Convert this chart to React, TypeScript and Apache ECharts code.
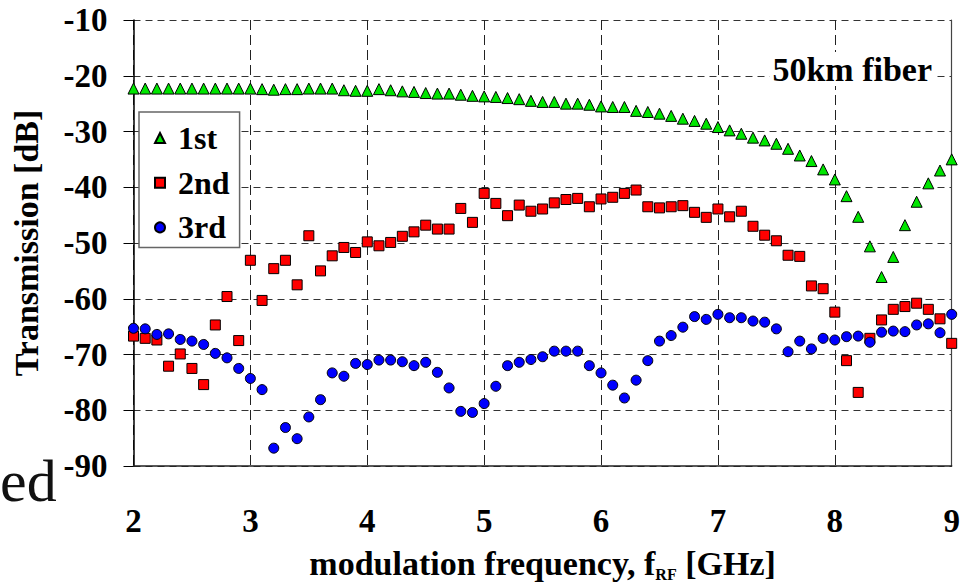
import React, { useEffect, useRef } from "react";
import * as echarts from "echarts";

const freqs = [
  2.0, 2.1, 2.2, 2.3, 2.4, 2.5, 2.6, 2.7, 2.8, 2.9,
  3.0, 3.1, 3.2, 3.3, 3.4, 3.5, 3.6, 3.7, 3.8, 3.9,
  4.0, 4.1, 4.2, 4.3, 4.4, 4.5, 4.6, 4.7, 4.8, 4.9,
  5.0, 5.1, 5.2, 5.3, 5.4, 5.5, 5.6, 5.7, 5.8, 5.9,
  6.0, 6.1, 6.2, 6.3, 6.4, 6.5, 6.6, 6.7, 6.8, 6.9,
  7.0, 7.1, 7.2, 7.3, 7.4, 7.5, 7.6, 7.7, 7.8, 7.9,
  8.0, 8.1, 8.2, 8.3, 8.4, 8.5, 8.6, 8.7, 8.8, 8.9,
  9.0,
];

const first = [
  -22.3, -22.3, -22.3, -22.3, -22.3, -22.3, -22.3, -22.3, -22.3, -22.3,
  -22.3, -22.4, -22.5, -22.4, -22.4, -22.3, -22.3, -22.3, -22.6, -22.7,
  -22.7, -22.4, -22.6, -22.8, -22.9, -23.1, -23.2, -23.2, -23.4, -23.6,
  -23.7, -23.8, -24.0, -24.2, -24.5, -24.7, -24.7, -25.0, -25.0, -25.2,
  -25.5, -25.6, -25.6, -26.3, -26.5, -26.8, -27.2, -27.7, -28.1, -28.6,
  -29.2, -29.8, -30.4, -31.1, -31.6, -32.2, -33.1, -34.3, -35.3, -36.8,
  -38.6, -41.6, -45.3, -50.6, -56.1, -52.5, -46.8, -42.6, -39.3, -37.0,
  -35.0,
];

const second = [
  -66.7, -67.1, -67.4, -72.1, -69.9, -72.5, -75.4, -64.7, -59.6, -67.5,
  -53.1, -60.3, -54.6, -53.1, -57.5, -48.7, -55.0, -52.3, -50.8, -51.7,
  -49.8, -50.5, -49.9, -48.8, -48.0, -46.8, -47.5, -47.5, -43.8, -46.3,
  -41.1, -42.9, -45.1, -43.2, -44.3, -43.9, -42.8, -42.2, -42.0, -43.5,
  -42.1, -41.8, -41.1, -40.5, -43.5, -43.7, -43.5, -43.3, -44.5, -45.4,
  -43.9, -45.3, -44.3, -47.0, -48.6, -49.6, -52.2, -52.4, -57.7, -58.2,
  -62.4, -71.1, -76.8, -67.1, -63.8, -61.9, -61.4, -60.8, -61.9, -63.6,
  -68.0,
];

const third = [
  -65.3, -65.4, -66.4, -66.3, -67.3, -67.6, -68.2, -69.8, -70.6, -72.5,
  -74.3, -76.3, -86.8, -83.1, -85.1, -81.2, -78.1, -73.3, -73.9, -71.6,
  -71.8, -71.0, -71.0, -71.3, -72.0, -71.4, -73.2, -76.0, -80.2, -80.4,
  -78.8, -75.7, -72.0, -71.4, -70.9, -70.4, -69.4, -69.4, -69.4, -72.0,
  -73.3, -75.5, -77.8, -74.6, -71.1, -67.6, -66.6, -65.1, -63.2, -63.7,
  -62.8, -63.4, -63.4, -64.0, -64.2, -65.4, -69.5, -67.6, -69.0, -67.1,
  -67.4, -66.8, -66.7, -67.8, -66.0, -65.8, -65.9, -64.7, -64.5, -66.1,
  -62.8,
];

const seriesNames = ["1st", "2nd", "3rd"];
const yTicks = { min: -90, max: -10, interval: 10 };
const xTicks = { min: 2, max: 9, interval: 1 };

const FONT = "'Liberation Serif', 'Times New Roman', serif";

export default function App() {
  const ref = useRef<HTMLDivElement>(null);

  useEffect(() => {
    if (!ref.current) return;
    const chart = echarts.init(ref.current, undefined, { renderer: "svg" });
    const pair = (ys: number[]) => freqs.map((f, i) => [f, ys[i]]);
    const dash = [7, 5];

    chart.setOption({
      animation: false,
      backgroundColor: "#ffffff",
      grid: { left: 133.5, right: 15.3, top: 20, bottom: 111, containLabel: false },
      xAxis: {
        type: "value",
        min: xTicks.min,
        max: xTicks.max,
        interval: xTicks.interval,
        name: "modulation frequency, f{sub|RF} [GHz]",
        nameLocation: "middle",
        nameGap: 80,
        nameTextStyle: {
          fontFamily: FONT,
          fontWeight: "bold",
          fontSize: 34,
          color: "#000",
          rich: {
            sub: { fontFamily: FONT, fontWeight: "bold", fontSize: 16, color: "#000", verticalAlign: "bottom", padding: [0, 0, -2, 0] },
          },
        },
        axisLine: { onZero: false, lineStyle: { color: "#222", width: 1.5 } },
        axisTick: { show: false },
        axisLabel: { fontFamily: FONT, fontWeight: "bold", fontSize: 33, color: "#000", margin: 38 },
        splitLine: { show: true, lineStyle: { color: "#222", type: [10, 5], width: 1 } },
      },
      yAxis: [
        {
          type: "value",
          min: yTicks.min,
          max: yTicks.max,
          interval: yTicks.interval,
          name: "Transmission [dB]",
          nameLocation: "middle",
          nameGap: 90,
          nameRotate: 90,
          nameTextStyle: { fontFamily: FONT, fontWeight: "bold", fontSize: 34, color: "#000" },
          axisLine: { show: true, onZero: false, lineStyle: { color: "#000", width: 1.5 } },
          axisTick: { show: true, inside: false, length: 10, lineStyle: { color: "#000", width: 1 } },
          axisLabel: { fontFamily: FONT, fontWeight: "bold", fontSize: 33, color: "#000", margin: 26 },
          splitLine: { show: true, lineStyle: { color: "#333", type: dash, width: 1 } },
        },
        {
          type: "value",
          position: "right",
          min: yTicks.min,
          max: yTicks.max,
          interval: yTicks.interval,
          axisLine: { show: true, onZero: false, lineStyle: { color: "#444", width: 1.2 } },
          axisTick: { show: false },
          axisLabel: { show: false },
          splitLine: { show: false },
        },
      ],
      legend: {
        orient: "vertical",
        left: 139,
        top: 112,
        data: seriesNames,
        backgroundColor: "#ffffff",
        borderColor: "#666",
        borderWidth: 1.5,
        borderRadius: 0,
        padding: [9, 10, 3, 15],
        itemGap: 10.7,
        itemWidth: 10,
        itemHeight: 10,
        textStyle: {
          fontFamily: FONT,
          fontWeight: "bold",
          fontSize: 32,
          lineHeight: 34,
          color: "#000",
          padding: [0, 0, 0, 8],
        },
      },
      graphic: [
        {
          type: "text",
          right: 32,
          top: 52,
          z: 10,
          style: {
            text: "50km fiber",
            fontFamily: FONT,
            fontWeight: "bold",
            fontSize: 34,
            fill: "#000",
            backgroundColor: "#fff",
            padding: [0, 3],
          },
        },
        {
          type: "text",
          left: 0,
          top: 451,
          z: 10,
          style: {
            text: "ed",
            fontFamily: FONT,
            fontSize: 60,
            fill: "#111",
          },
        },
      ],
      series: [
        {
          name: seriesNames[0],
          type: "scatter",
          symbol: "triangle",
          symbolSize: 11,
          data: pair(first),
          itemStyle: { color: "#00e600", borderColor: "#000", borderWidth: 1, opacity: 1 },
        },
        {
          name: seriesNames[1],
          type: "scatter",
          symbol: "rect",
          symbolSize: 10,
          data: pair(second),
          itemStyle: { color: "#ff0000", borderColor: "#000", borderWidth: 1, opacity: 1 },
        },
        {
          name: seriesNames[2],
          type: "scatter",
          symbol: "circle",
          symbolSize: 10,
          data: pair(third),
          itemStyle: { color: "#0000ff", borderColor: "#000", borderWidth: 1, opacity: 1 },
        },
      ],
    });

    return () => chart.dispose();
  }, []);

  return (
    <div
      ref={ref}
      style={{ position: "absolute", left: 0, top: 0, width: 967, height: 587 }}
    />
  );
}
